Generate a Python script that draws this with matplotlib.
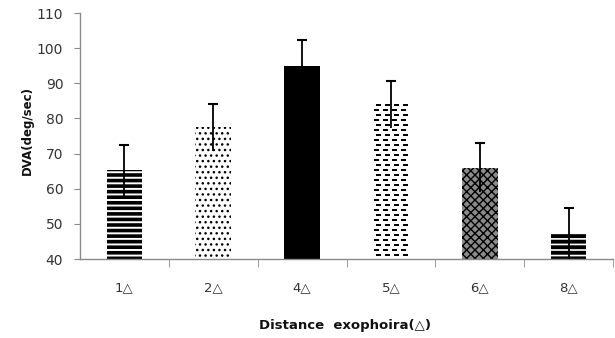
import numpy as np
import matplotlib
matplotlib.use('Agg')
import matplotlib.pyplot as plt

# data
categories = ['1△', '2△', '4△', '5△', '6△', '8△']
dva_mean = [65.2, 77.5, 95.0, 84.0, 66.0, 47.0]
dva_err = [7.3, 6.7, 7.2, 6.7, 7.0, 7.4]

# styles
hatches = ['---', '...', '', None, 'xxxx', '---']
faces = ['white', 'white', 'black', 'white', '#8a8a8a', 'white']
hatch_lw = [2.6, 1.0, 1.0, 1.0, 1.0, 2.8]

fig = plt.figure(figsize=(6.15, 3.38), dpi=100)
ax = fig.add_axes([0.130, 0.2337, 0.867, 0.7278])

x = np.arange(len(categories))
bars = []
for i in range(len(categories)):
    with plt.rc_context({'hatch.linewidth': hatch_lw[i]}):
        b = ax.bar(x[i], dva_mean[i] - 40, bottom=40, width=0.4,
                   color=faces[i], edgecolor='black', linewidth=0,
                   hatch=hatches[i] if hatches[i] else None, zorder=2)[0]
    if hasattr(b, 'set_hatch_linewidth'):
        b.set_hatch_linewidth(hatch_lw[i])
    bars.append(b)

ax.set_xlim(-0.5, len(categories) - 0.5)
ax.set_ylim(40, 110)

# dashed fill for the 5△ bar, drawn as a small image clipped to the bar
b5 = bars[3]
x0, y0 = b5.get_x(), b5.get_y()
x1, y1 = x0 + b5.get_width(), y0 + b5.get_height()
p0 = ax.transData.transform((x0, y0))
p1 = ax.transData.transform((x1, y1))
w_px = int(round(p1[0] - p0[0]))
h_px = int(round(p1[1] - p0[1]))
rows = np.arange(h_px)[:, None]
cols = np.arange(w_px)[None, :]
shift = ((rows // 5) % 2) * 2
dash = ((rows % 5) < 2) & (((cols + shift) % 9) >= 3) & (((cols + shift) % 9) < 8)
img = np.where(dash, 0.0, 1.0)
im = ax.imshow(img, cmap='gray', vmin=0, vmax=1, extent=(x0, x1, y0, y1),
               origin='upper', interpolation='nearest', aspect='auto', zorder=2)
im.set_clip_path(b5)
ax.set_xlim(-0.5, len(categories) - 0.5)
ax.set_ylim(40, 110)

# error bars: line plus top cap only
lo = [m - e for m, e in zip(dva_mean, dva_err)]
hi = [m + e for m, e in zip(dva_mean, dva_err)]
ax.vlines(x, lo, hi, color='black', linewidth=1.3, zorder=3)
ax.plot(x, hi, linestyle='none', marker='_', markersize=6.5, markeredgewidth=1.5,
        color='black', zorder=3)

# axes styling
for s in ['top', 'right']:
    ax.spines[s].set_visible(False)
for s in ['left', 'bottom']:
    ax.spines[s].set_color('#8a8a8a')
    ax.spines[s].set_linewidth(1.0)

ax.set_yticks(np.arange(40, 111, 10))
ax.tick_params(axis='y', direction='out', length=4, color='#8a8a8a',
               labelsize=10, labelcolor='#333333', pad=8)
ax.set_xticks(x)
ax.set_xticklabels(categories)
ax.set_xticks(np.arange(0.5, len(categories), 1.0), minor=True)
ax.tick_params(axis='x', which='major', length=0, labelsize=9.5,
               labelcolor='#333333', pad=16)
ax.tick_params(axis='x', which='minor', direction='out', length=6,
               color='#8a8a8a')

fig.text(0.044, 0.615, 'DVA(deg/sec)', rotation=90, fontsize=8.5,
         fontweight='bold', ha='center', va='center', color='#111111')
fig.text(0.561, 0.038, 'Distance  exophoira(△)', fontsize=9.5,
         fontweight='bold', ha='center', va='center', color='#111111')

fig.savefig('out.png', dpi=100)
